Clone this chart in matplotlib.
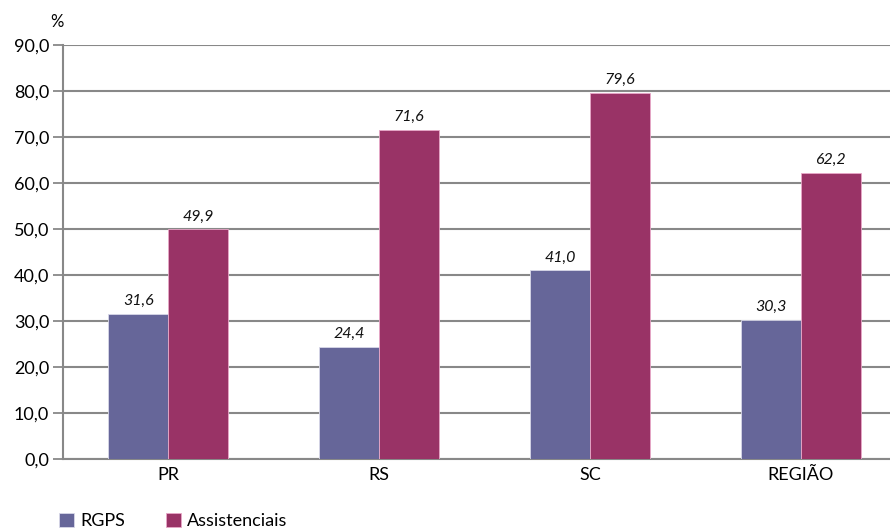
import matplotlib.pyplot as plt
import numpy as np

# dados
categorias = ["PR", "RS", "SC", "REGIÃO"]
rgps = [31.6, 24.4, 41.0, 30.3]
assistenciais = [49.9, 71.6, 79.6, 62.2]
yticks = [0, 10, 20, 30, 40, 50, 60, 70, 80, 90]

plt.rcParams['font.family'] = ['Lato', 'DejaVu Sans']

fig = plt.figure(figsize=(8.9, 5.32), dpi=100)
ax = fig.add_axes([63 / 890, 73 / 532, 843 / 890, 414 / 532])

x = np.arange(len(categorias))
w = 0.285
b1 = ax.bar(x - w / 2, rgps, w, color='#666699', edgecolor='#d8d8e8', linewidth=0.6, label='RGPS', zorder=3)
b2 = ax.bar(x + w / 2, assistenciais, w, color='#993366', edgecolor='#e8a8c8', linewidth=0.6, label='Assistenciais', zorder=3)

# rótulos dos valores
for rects, vals in ((b1, rgps), (b2, assistenciais)):
    for r, v in zip(rects, vals):
        ax.text(r.get_x() + r.get_width() / 2, v + 1.2, f"{v:.1f}".replace('.', ','),
                ha='center', va='bottom', fontsize=11.5, style='italic', color='#111111')

ax.set_xlim(-0.5, len(categorias) - 0.5)
ax.set_ylim(0, 90)
ax.set_yticks(yticks)
ax.set_yticklabels([f"{t:.1f}".replace('.', ',') for t in yticks], fontsize=13)
ax.set_xticks(x)
ax.set_xticklabels(categorias, fontsize=13)
ax.tick_params(axis='x', length=0, pad=6)
ax.tick_params(axis='y', length=7, width=1.3, color='#888888', pad=3)
ax.grid(axis='y', color='#888888', linewidth=1.5, zorder=0)

for s in ['top', 'right']:
    ax.spines[s].set_visible(False)
ax.spines['left'].set_color('#888888')
ax.spines['left'].set_linewidth(1.5)
ax.spines['bottom'].set_color('#888888')
ax.spines['bottom'].set_linewidth(1.5)

fig.text(57 / 890, 1 - 22 / 532, "%", ha='center', va='center', fontsize=12)

fig.legend(handles=[b1, b2], loc='lower left', bbox_to_anchor=(43 / 890, -0.025), ncol=2,
           frameon=False, fontsize=13, handlelength=0.8, handleheight=0.8,
           handletextpad=0.35, columnspacing=2.3)

fig.savefig('out.png', dpi=100)
